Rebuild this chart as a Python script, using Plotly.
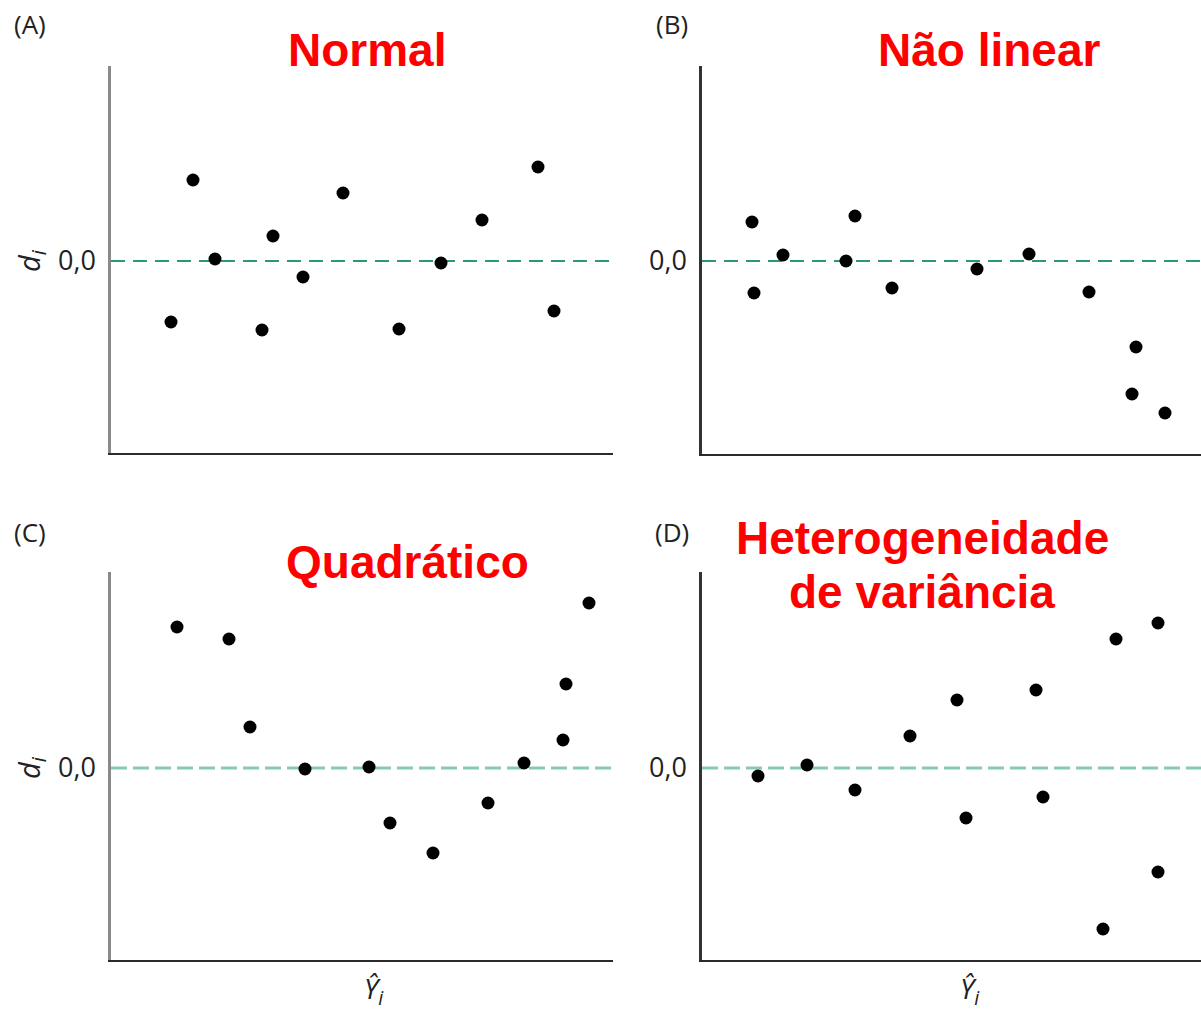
import plotly.graph_objects as go

W, H = 1201, 1016

# ---- data (arbitrary residual units) ----
a_x = [6.0, 8.2, 10.4, 15.1, 16.2, 19.2, 23.2, 28.8, 33.0, 37.1, 42.7, 44.3]
a_y = [-6.1, 8.1, 0.2, -6.9, 2.5, -1.6, 6.8, -6.8, -0.2, 4.1, 9.4, -5.0]

b_x = [5.0, 5.2, 8.1, 14.4, 15.3, 19.0, 27.5, 32.7, 38.7, 43.4, 43.0, 46.3]
b_y = [3.9, -3.2, 0.6, 0.0, 4.5, -2.7, -0.8, 0.7, -3.1, -8.6, -13.3, -15.2]

c_x = [6.6, 11.8, 13.9, 19.4, 25.8, 27.9, 32.2, 37.7, 41.3, 45.2, 45.5, 47.8]
c_y = [14.1, 12.9, 4.1, -0.1, 0.1, -5.5, -8.5, -3.5, 0.5, 2.8, 8.4, 16.5]

d_x = [5.6, 10.5, 15.3, 20.8, 25.5, 26.4, 33.4, 34.1, 40.1, 41.4, 45.6, 45.6]
d_y = [-0.8, 0.3, -2.2, 3.2, 6.8, -5.0, 7.8, -2.9, -16.1, 12.9, 14.5, -10.4]

titles = ["Normal", "Não linear", "Quadrático", "Heterogeneidade", "de variância"]
panel_labels = ["(A)", "(B)", "(C)", "(D)"]
zero_label = "0,0"

# ---- layout geometry (pixels) ----
panels = [
    dict(x=a_x, y=a_y, px=(111, 613), py=(66, 453), zero=261, lcol="#8a8a8a", dcol="#2a9a74", dw=2, dash="14px,8px"),
    dict(x=b_x, y=b_y, px=(702, 1201), py=(66, 454), zero=261, lcol="#333333", dcol="#2a9a74", dw=2, dash="14px,8px"),
    dict(x=c_x, y=c_y, px=(111, 613), py=(572, 960), zero=768, lcol="#8a8a8a", dcol="#86cbad", dw=3, dash="16px,6px"),
    dict(x=d_x, y=d_y, px=(702, 1201), py=(572, 960), zero=768, lcol="#333333", dcol="#86cbad", dw=3, dash="16px,6px"),
]

fig = go.Figure()
layout = dict(
    width=W, height=H, margin=dict(l=0, r=0, t=0, b=0),
    paper_bgcolor="white", plot_bgcolor="white", showlegend=False,
)
shapes = []
annotations = []

for i, p in enumerate(panels):
    k = "" if i == 0 else str(i + 1)
    xr = [0, (p["px"][1] - p["px"][0]) / 10.0]
    yr = [-(p["py"][1] - p["zero"]) / 10.0, (p["zero"] - p["py"][0]) / 10.0]
    fig.add_trace(go.Scatter(
        x=p["x"], y=p["y"], mode="markers",
        marker=dict(size=13, color="black", line=dict(width=0)),
        xaxis="x" + k, yaxis="y" + k, cliponaxis=False,
    ))
    layout["xaxis" + k] = dict(
        domain=[p["px"][0] / W, p["px"][1] / W], range=xr, anchor="y" + k,
        showgrid=False, zeroline=False, showticklabels=False, ticks="",
        showline=True, linecolor="#2b2b2b", linewidth=2, fixedrange=True,
    )
    layout["yaxis" + k] = dict(
        domain=[1 - p["py"][1] / H, 1 - p["py"][0] / H], range=yr, anchor="x" + k,
        showgrid=False, zeroline=False, ticks="",
        tickvals=[0], ticktext=[zero_label], ticklabelstandoff=7,
        tickfont=dict(family="Open Sans", size=27, color="#222222"),
        showline=True, linecolor=p["lcol"], linewidth=2.5, fixedrange=True,
    )
    shapes.append(dict(
        type="line", xref="x" + k, yref="y" + k, x0=xr[0], x1=xr[1], y0=0, y1=0,
        line=dict(color=p["dcol"], width=p["dw"], dash=p["dash"]), layer="below",
    ))

layout["shapes"] = shapes

def ann(text, px, py, size, color="#222222", family="Open Sans", bold=False, angle=0):
    t = f"<b>{text}</b>" if bold else text
    annotations.append(dict(
        text=t, x=px / W, y=1 - py / H, xref="paper", yref="paper",
        xanchor="center", yanchor="middle", showarrow=False, textangle=angle,
        font=dict(family=family, size=size, color=color),
    ))

# panel letters
ann(panel_labels[0], 30, 24, 26)
ann(panel_labels[1], 672, 24, 26)
ann(panel_labels[2], 30, 532, 26)
ann(panel_labels[3], 672, 532, 26)

# titles
red = "#ff0000"
tf = "Liberation Sans, Arial"
ann(titles[0], 367, 50, 46, red, tf, True)
ann(titles[1], 989, 50, 46, red, tf, True)
ann(titles[2], 407, 562, 46, red, tf, True)
ann(titles[3], 922, 538, 46, red, tf, True)
ann(titles[4], 922, 592, 46, red, tf, True)

# axis symbols
ann("<i>d</i><sub><i>i</i></sub>", 30, 261, 29, angle=-90)
ann("<i>d</i><sub><i>i</i></sub>", 30, 768, 29, angle=-90)
ann("<i>Ŷ</i><sub><i>i</i></sub>", 374, 990, 28)
ann("<i>Ŷ</i><sub><i>i</i></sub>", 970, 990, 28)

layout["annotations"] = annotations
fig.update_layout(**layout)
fig.write_html("out.html")
